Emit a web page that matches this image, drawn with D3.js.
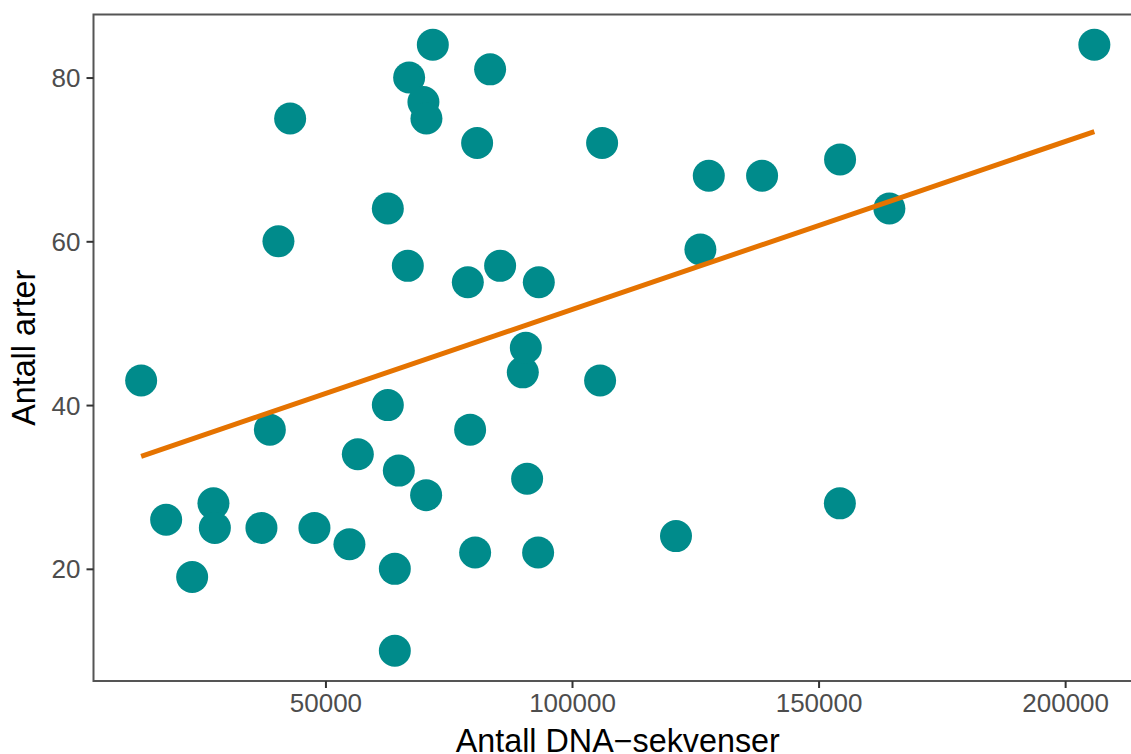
<!DOCTYPE html>
<html>
<head>
<meta charset="utf-8">
<script src="https://cdn.jsdelivr.net/npm/d3@7"></script>
<style>
  html, body { margin: 0; padding: 0; background: #ffffff; }
  svg { display: block; font-family: "Liberation Sans", Arial, sans-serif; }
</style>
</head>
<body>
<svg id="chart" width="1131" height="754"></svg>
<script>
// Antall DNA-sekvenser per område og antall arter funnet
const sekvenser = [
  12631, 17700, 22972, 27291, 27575, 37023, 38727, 40470, 42843, 47770,
  54866, 56569, 62652, 62652, 64072, 64072, 64883, 66707, 66971, 69870,
  70418, 70479, 71776, 78873, 79339, 80353, 80759, 83395, 85422, 90025,
  90633, 90897, 93127, 93269, 105698, 106104, 121088, 126035, 127738, 138545,
  154361, 154320, 164357, 205922
];
const arter = [
  43, 26, 19, 28, 25, 25, 37, 60, 75, 25,
  23, 34, 40, 64, 20, 10, 32, 57, 80, 77,
  29, 75, 84, 55, 37, 22, 72, 81, 57, 44,
  47, 31, 22, 55, 43, 72, 24, 59, 68, 68,
  70, 28, 64, 84
];
const xTicks = [50000, 100000, 150000, 200000];
const yTicks = [20, 40, 60, 80];
const xTitle = "Antall DNA\u2212sekvenser";
const yTitle = "Antall arter";

const punkter = sekvenser.map((s, i) => ({ x: s, y: arter[i] }));

// Panel geometry
const panel = { left: 93.5, right: 1142, top: 14.5, bottom: 681 };

// Scales with 5 % expansion of the data range on each side
function expand(ext, f) {
  const d = (ext[1] - ext[0]) * f;
  return [ext[0] - d, ext[1] + d];
}
const x = d3.scaleLinear()
  .domain(expand(d3.extent(sekvenser), 0.05))
  .range([panel.left, panel.right]);
const y = d3.scaleLinear()
  .domain(expand(d3.extent(arter), 0.05))
  .range([panel.bottom, panel.top]);

const svg = d3.select("#chart");

// Least-squares fit of arter on sekvenser
const mx = d3.mean(sekvenser), my = d3.mean(arter);
let sxy = 0, sxx = 0;
punkter.forEach(p => { sxy += (p.x - mx) * (p.y - my); sxx += (p.x - mx) * (p.x - mx); });
const slope = sxy / sxx, intercept = my - slope * mx;
const fitX = d3.extent(sekvenser);
const fit = fitX.map(v => ({ x: v, y: intercept + slope * v }));

// Points
svg.append("g")
  .selectAll("circle")
  .data(punkter)
  .join("circle")
  .attr("cx", d => x(d.x))
  .attr("cy", d => y(d.y))
  .attr("r", 16)
  .attr("fill", "#008b8b");

// Regression line
svg.append("path")
  .datum(fit)
  .attr("fill", "none")
  .attr("stroke", "#e57300")
  .attr("stroke-width", 5)
  .attr("d", d3.line().x(d => x(d.x)).y(d => y(d.y)));

// Panel border
svg.append("rect")
  .attr("x", panel.left)
  .attr("y", panel.top)
  .attr("width", panel.right - panel.left)
  .attr("height", panel.bottom - panel.top)
  .attr("fill", "none")
  .attr("stroke", "#555555")
  .attr("stroke-width", 2);

// Axes
const xAxis = d3.axisBottom(x).tickValues(xTicks).tickFormat(d3.format("d"))
  .tickSizeInner(7).tickSizeOuter(0).tickPadding(6);
const yAxis = d3.axisLeft(y).tickValues(yTicks).tickFormat(d3.format("d"))
  .tickSizeInner(7).tickSizeOuter(0).tickPadding(6);

const gx = svg.append("g").attr("transform", `translate(0,${panel.bottom})`).call(xAxis);
const gy = svg.append("g").attr("transform", `translate(${panel.left},0)`).call(yAxis);

[gx, gy].forEach(g => {
  g.select(".domain").remove();
  g.selectAll(".tick line").attr("stroke", "#333333").attr("stroke-width", 2);
  g.selectAll(".tick text")
    .attr("fill", "#4d4d4d")
    .attr("font-size", 26)
    .attr("font-family", "Liberation Sans, Arial, sans-serif");
});
gy.selectAll(".tick text").attr("dy", "0.35em");
gx.selectAll(".tick text").attr("dy", "0.71em");

// Axis titles
svg.append("text")
  .attr("x", (panel.left + panel.right) / 2)
  .attr("y", 752)
  .attr("text-anchor", "middle")
  .attr("font-size", 32.3)
  .attr("fill", "#000000")
  .text(xTitle);

svg.append("text")
  .attr("transform", `translate(35,${(panel.top + panel.bottom) / 2}) rotate(-90)`)
  .attr("text-anchor", "middle")
  .attr("font-size", 32.3)
  .attr("fill", "#000000")
  .text(yTitle);
</script>
</body>
</html>
